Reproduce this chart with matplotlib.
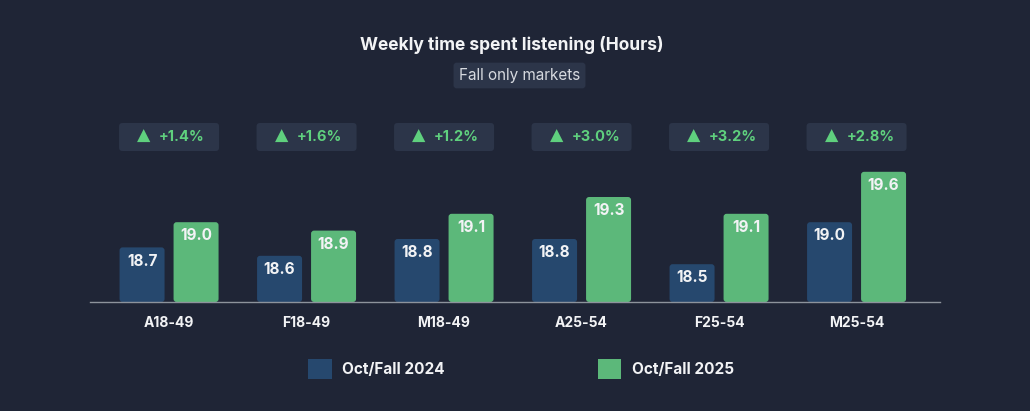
import matplotlib.pyplot as plt
from matplotlib.patches import FancyBboxPatch, Patch

# ----------------------------------------------------------------------
# DATA
# ----------------------------------------------------------------------
demos = ["A18-49", "F18-49", "M18-49", "A25-54", "F25-54", "M25-54"]
hours_2024 = [18.7, 18.6, 18.8, 18.8, 18.5, 19.0]
hours_2025 = [19.0, 18.9, 19.1, 19.3, 19.1, 19.6]
changes = ["+1.4%", "+1.6%", "+1.2%", "+3.0%", "+3.2%", "+2.8%"]
series_names = ["Oct/Fall 2024", "Oct/Fall 2025"]

# ----------------------------------------------------------------------
# STYLE
# ----------------------------------------------------------------------
BG = "#1f2536"
BOX = "#2c3549"
BLUE = "#26486e"
GREEN = "#5cb87a"
GREEN_TXT = "#5fd07e"
WHITE = "#f2f3f5"

plt.rcParams["font.family"] = ["Inter", "DejaVu Sans"]

W, H = 1030, 411
fig = plt.figure(figsize=(W / 100, H / 100), dpi=100, facecolor=BG)

# axes placed in pixels: baseline at y=302, x from 90 to 940
y0 = 18.05          # value at the baseline
px_per_unit = 84.0
px_per_x = 137.5
top_px = 110
ax = fig.add_axes([90 / W, (H - 302) / H, 850 / W, (302 - top_px) / H])
ax.set_facecolor(BG)
ax.set_xlim(-0.575, -0.575 + 850 / px_per_x)
ax.set_ylim(y0, y0 + (302 - top_px) / px_per_unit)

x = list(range(len(demos)))
bw = 45 / px_per_x
off = 27 / px_per_x
aspect = px_per_x / px_per_unit

b1 = ax.bar([i - off for i in x], [v - y0 for v in hours_2024], bottom=y0,
            width=bw, color=BLUE, zorder=2)
b2 = ax.bar([i + off for i in x], [v - y0 for v in hours_2025], bottom=y0,
            width=bw, color=GREEN, zorder=2)

# swap the plain rectangles for slightly rounded ones
for bars in (b1, b2):
    for r in bars:
        ax.add_patch(FancyBboxPatch((r.get_x(), r.get_y()), r.get_width(),
                                    r.get_height(),
                                    boxstyle="round,pad=0,rounding_size=0.022",
                                    mutation_aspect=aspect,
                                    fc=r.get_facecolor(), ec="none", zorder=2))
        r.set_visible(False)

# value labels inside bar tops
for bars, vals in ((b1, hours_2024), (b2, hours_2025)):
    for r, v in zip(bars, vals):
        ax.text(r.get_x() + r.get_width() / 2, v - 0.075, f"{v:.1f}",
                ha="center", va="top", color=WHITE, fontsize=11,
                fontweight="bold", zorder=3)

# change boxes above each group
box_lo = y0 + (302 - 151) / px_per_unit
box_hi = y0 + (302 - 123) / px_per_unit
box_mid = (box_lo + box_hi) / 2
bx_w = 100 / px_per_x
for i, c in zip(x, changes):
    ax.add_patch(FancyBboxPatch((i - bx_w / 2, box_lo), bx_w, box_hi - box_lo,
                                boxstyle="round,pad=0,rounding_size=0.025",
                                mutation_aspect=aspect, fc=BOX, ec="none",
                                clip_on=False, zorder=1))
    ax.text(i - 25 / px_per_x, box_mid + 0.01, "▲", ha="center",
            va="center", color=GREEN_TXT, fontsize=12.5,
            family=["DejaVu Sans"])
    ax.text(i - 10 / px_per_x, box_mid, c, ha="left", va="center",
            color=GREEN_TXT, fontsize=10.5, fontweight="bold")

# axis cosmetics
for s in ("top", "right", "left"):
    ax.spines[s].set_visible(False)
ax.spines["bottom"].set_color("#8d939c")
ax.spines["bottom"].set_linewidth(1.0)
ax.set_yticks([])
ax.set_xticks(x)
ax.set_xticklabels(demos, color=WHITE, fontsize=10, fontweight="bold")
ax.tick_params(axis="x", length=0, pad=10)

# title + subtitle chip
fig.text(512 / W, 1 - 45 / H, "Weekly time spent listening (Hours)",
         ha="center", va="center", color=WHITE, fontsize=12.5,
         fontweight="bold")
fig.text(519.5 / W, 1 - 75.5 / H, "Fall only markets", ha="center",
         va="center", color="#d6d9df", fontsize=11,
         bbox=dict(boxstyle="round,pad=0.35,rounding_size=0.2", fc=BOX,
                   ec="none"))

# legend
handles = [Patch(facecolor=BLUE, edgecolor="none"),
           Patch(facecolor=GREEN, edgecolor="none")]
leg = fig.legend(handles, series_names, loc="center",
                 bbox_to_anchor=(521 / W, 1 - 369 / H), ncol=2,
                 frameon=False, handlelength=1.55, handleheight=1.55,
                 handletextpad=0.7, columnspacing=10.0,
                 prop={"size": 11, "weight": "bold"})
for t in leg.get_texts():
    t.set_color(WHITE)

fig.savefig("out.png", dpi=100, facecolor=BG)
